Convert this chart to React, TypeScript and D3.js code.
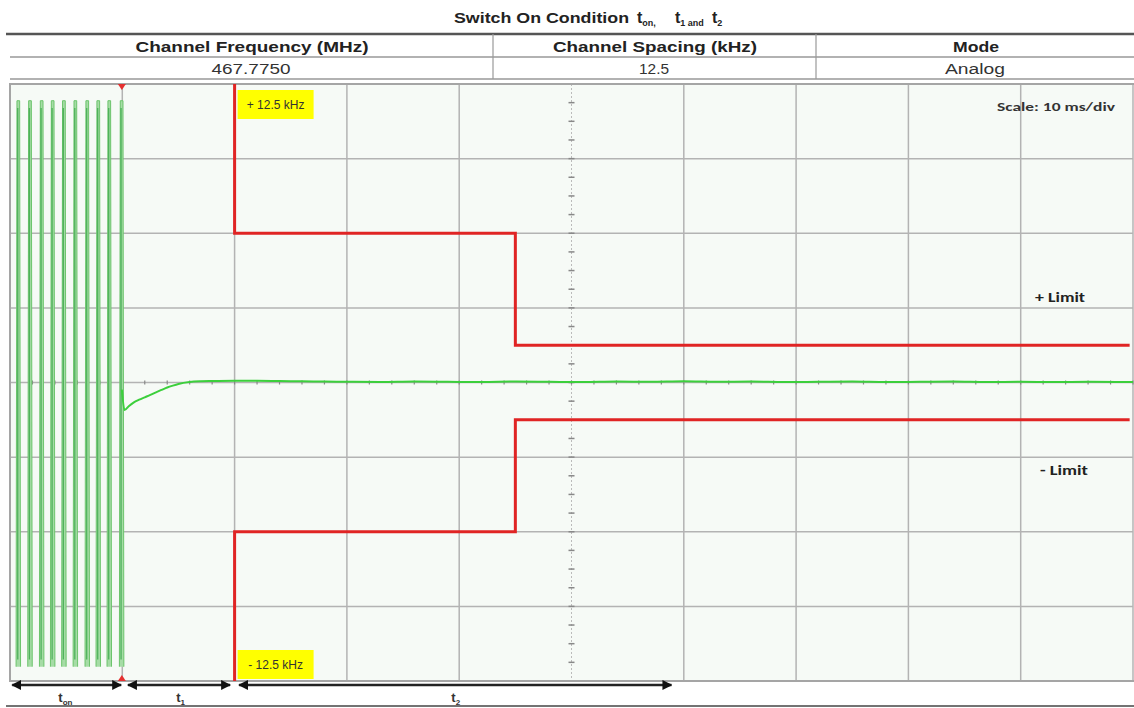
import React from "react";
import * as d3 from "d3";

// ---- Data ----
const titleMain = "Switch On Condition ";
const tableHeaders = ["Channel Frequency (MHz)", "Channel Spacing (kHz)", "Mode"];
const tableValues = ["467.7750", "12.5", "Analog"];

// time axis in ms (10 ms/div), frequency deviation in kHz (3.125 kHz/div)
const timeDomain = [0, 100];
const freqDomain = [-12.5, 12.5];
const timeGrid = [0, 10, 20, 30, 40, 50, 60, 70, 80, 90, 100];
const freqGrid = [-12.5, -9.375, -6.25, -3.125, 0, 3.125, 6.25, 9.375, 12.5];

// upper / lower limit masks (t ms, f kHz)
const upperLimitT = [20, 20, 45, 45, 99.7];
const upperLimitF = [12.5, 6.25, 6.25, 1.5625, 1.5625];
const lowerLimitT = [20, 20, 45, 45, 99.7];
const lowerLimitF = [-12.5, -6.25, -6.25, -1.5625, -1.5625];

// transmitter start-up oscillation spikes (ms)
const spikeTimes = [0.74, 1.78, 2.82, 3.8, 4.8, 5.82, 6.88, 7.86, 8.84, 9.94];
const spikeTop = 11.8;
const spikeBottom = -11.9;

// settling trace after switch on
const settleT = [9.96, 10.2, 10.6, 11, 11.5, 12, 12.5, 13, 13.5, 14, 14.5, 15, 16, 17, 18, 20, 22, 24, 26, 28, 30,
  33, 36, 39, 42, 45, 48, 51, 54, 57, 60, 63, 66, 69, 72, 75, 78, 81, 84, 87, 90, 93, 96, 100];
const settleF = [-0.3, -1.15, -0.98, -0.84, -0.72, -0.62, -0.52, -0.41, -0.31, -0.21, -0.13, -0.06, 0.02, 0.05, 0.06, 0.07, 0.07, 0.06, 0.05, 0.04, 0.03,
  0.02, 0.04, 0.03, 0.02, 0.04, 0.03, 0.02, 0.04, 0.03, 0.05, 0.03, 0.04, 0.02, 0.03, 0.04, 0.02, 0.03, 0.04, 0.02, 0.03, 0.02, 0.03, 0.02];

// timing arrows (ms)
const arrowNames = ["on", "1", "2"];
const arrowStart = [0.2, 10.5, 20.4];
const arrowEnd = [9.9, 19.6, 58.9];
const arrowLabelT = [4.3, 14.8, 39.3];

const markerT = 9.96;

export default function App() {
  const W = 1134;
  const H = 708;
  const x = d3.scaleLinear().domain(timeDomain).range([10, 1133]);
  const y = d3.scaleLinear().domain(freqDomain).range([681, 84]);

  const line = d3
    .line<[number, number]>()
    .x((d) => x(d[0]))
    .y((d) => y(d[1]));

  const upper = line(upperLimitT.map((t, i) => [t, upperLimitF[i]]));
  const lower = line(lowerLimitT.map((t, i) => [t, lowerLimitF[i]]));
  const settle = d3
    .line<[number, number]>()
    .x((d) => x(d[0]))
    .y((d) => y(d[1]))
    .curve(d3.curveMonotoneX)(settleT.map((t, i) => [t, settleF[i]]));

  const hw = 0.2;
  const spikeFill = spikeTimes.map((t) =>
    line([
      [t - hw, spikeBottom],
      [t - hw * 0.6, spikeTop],
      [t + hw * 0.6, spikeTop],
      [t + hw, spikeBottom],
    ])
  );
  const spikeCore = spikeTimes.map((t) =>
    line([
      [t - 0.05, spikeBottom + 0.3],
      [t - 0.05, spikeTop - 0.3],
    ])
  );

  // minor ticks along centre lines
  const hTicks = d3.range(0, 100.01, 2);
  const vTicks = d3.range(-12.5, 12.51, 0.78125);

  const gridColor = "#b3b3b3";
  const font = "'Liberation Sans', Arial, sans-serif";
  const calibri = "Carlito, 'Open Sans', 'DejaVu Sans', sans-serif";
  const colCenters = [252, 655, 976];
  const headerLens = [233, 204, 46];
  const valueLens = [79, 30, 60];

  return (
    <svg
      width={W}
      height={H}
      style={{ position: "absolute", left: 0, top: 0, background: "#fff" }}
      fontFamily={font}
    >
      <defs>
        <marker id="ah" viewBox="0 0 10 10" refX="9" refY="5" markerWidth="4" markerHeight="4" orient="auto-start-reverse">
          <path d="M0,0 L10,5 L0,10 z" fill="#111" />
        </marker>
      </defs>

      {/* Title */}
      <text x={454} y={23} fontSize={15} fontWeight="bold" fill="#222">
        <tspan textLength={180} lengthAdjust="spacingAndGlyphs">{titleMain}</tspan>
        <tspan x={637} fontSize={16}>t</tspan>
        <tspan fontSize={9} dy={3}>on,</tspan>
        <tspan x={675} dy={-3} fontSize={16}>t</tspan>
        <tspan fontSize={9} dy={3}>1 and</tspan>
        <tspan x={712} dy={-3} fontSize={16}>t</tspan>
        <tspan fontSize={9} dy={3}>2</tspan>
      </text>

      {/* Table */}
      <line x1={6} x2={1134} y1={34} y2={34} stroke="#555" strokeWidth={2.5} />
      <line x1={10} x2={1134} y1={57} y2={57} stroke="#999" strokeWidth={1.5} />
      <line x1={10} x2={1134} y1={79} y2={79} stroke="#999" strokeWidth={1.5} />
      {[493, 816].map((cx) => (
        <line key={cx} x1={cx} x2={cx} y1={34} y2={79} stroke="#999" strokeWidth={1.2} />
      ))}
      {tableHeaders.map((h, i) => (
        <text key={h} x={colCenters[i]} y={52} textAnchor="middle" fontSize={15} fontWeight="bold" fill="#222"
          textLength={headerLens[i]} lengthAdjust="spacingAndGlyphs">{h}</text>
      ))}
      {tableValues.map((v, i) => (
        <text key={v} x={colCenters[i] - 1} y={74} textAnchor="middle" fontSize={14} fill="#333"
          textLength={valueLens[i]} lengthAdjust="spacingAndGlyphs">{v}</text>
      ))}

      {/* Plot background */}
      <rect x={x(0)} y={y(12.5)} width={x(100) - x(0)} height={y(-12.5) - y(12.5)} fill="#f6faf6" />

      {/* Grid */}
      {timeGrid.map((t) =>
        t === 50 ? null : (
          <line key={"vx" + t} x1={x(t)} x2={x(t)} y1={y(12.5)} y2={y(-12.5)} stroke={gridColor} strokeWidth={1.5} />
        )
      )}
      {freqGrid.map((f) => (
        <line key={"hy" + f} x1={x(0)} x2={x(100)} y1={y(f)} y2={y(f)} stroke={gridColor} strokeWidth={1.5} />
      ))}
      {/* centre vertical dotted axis */}
      <line x1={x(50)} x2={x(50)} y1={y(12.5)} y2={y(-12.5)} stroke="#bbb" strokeWidth={1} strokeDasharray="2,2" />
      {vTicks.map((f) => (
        <line key={"vt" + f} x1={x(50) - 3} x2={x(50) + 3} y1={y(f)} y2={y(f)} stroke="#888" strokeWidth={1.5} />
      ))}
      {hTicks.map((t) => (
        <line key={"ht" + t} x1={x(t)} x2={x(t)} y1={y(0) - 2} y2={y(0) + 2} stroke="#888" strokeWidth={1.2} />
      ))}

      {/* plot border */}
      <rect x={x(0)} y={y(12.5)} width={x(100) - x(0) + 2} height={y(-12.5) - y(12.5)} fill="none" stroke="#a5a5a5" strokeWidth={2} />

      {/* Oscillation spikes */}
      {spikeFill.map((p, i) => (
        <path key={"sp" + i} d={p || ""} fill="#a6dca6" stroke="#6cc46c" strokeWidth={1} />
      ))}
      {spikeCore.map((p, i) => (
        <path key={"sc" + i} d={p || ""} fill="none" stroke="#3aa84a" strokeWidth={1.3} opacity={0.8} />
      ))}
      {/* settling trace */}
      <path d={settle || ""} fill="none" stroke="#3ccf3c" strokeWidth={2} />

      {/* Limit masks */}
      <path d={upper || ""} fill="none" stroke="#e02424" strokeWidth={3} />
      <path d={lower || ""} fill="none" stroke="#e02424" strokeWidth={3} />

      {/* red trigger markers */}
      <path d={`M${x(markerT) - 4},${y(12.5)} L${x(markerT) + 4},${y(12.5)} L${x(markerT)},${y(12.5) + 6} z`} fill="#e53030" />
      <path d={`M${x(markerT) - 4},${y(-12.5)} L${x(markerT) + 4},${y(-12.5)} L${x(markerT)},${y(-12.5) - 6} z`} fill="#e53030" />

      {/* Yellow labels */}
      <rect x={x(20) + 3} y={y(12.5) + 6} width={76} height={29} fill="#ffff00" />
      <text x={x(20) + 41} y={y(12.5) + 25} textAnchor="middle" fontSize={12} fill="#333">+ 12.5 kHz</text>
      <rect x={x(20) + 3} y={y(-12.5) - 31} width={76} height={29} fill="#ffff00" />
      <text x={x(20) + 41} y={y(-12.5) - 12} textAnchor="middle" fontSize={12} fill="#333">- 12.5 kHz</text>

      {/* Annotations */}
      <text x={997} y={111} fontSize={12} fontWeight="bold" fill="#333" fontFamily={calibri}
        textLength={118} lengthAdjust="spacingAndGlyphs">Scale: 10 ms/div</text>
      <text x={1035} y={302} fontSize={14} fontWeight="bold" fill="#222" fontFamily={calibri}
        textLength={50} lengthAdjust="spacingAndGlyphs">+ Limit</text>
      <text x={1040} y={475} fontSize={14} fontWeight="bold" fill="#222" fontFamily={calibri}
        textLength={48} lengthAdjust="spacingAndGlyphs">- Limit</text>

      {/* Timing arrows */}
      {arrowNames.map((n, i) => (
        <g key={"ar" + n}>
          <line x1={x(arrowStart[i])} x2={x(arrowEnd[i])} y1={685} y2={685} stroke="#222" strokeWidth={2.5}
            markerStart="url(#ah)" markerEnd="url(#ah)" />
          <text x={x(arrowLabelT[i])} y={702} fontSize={13} fontWeight="bold" fill="#333">
            t<tspan fontSize={8} dy={3}>{n}</tspan>
          </text>
        </g>
      ))}
      <line x1={6} x2={1134} y1={706} y2={706} stroke="#444" strokeWidth={1.5} />
    </svg>
  );
}
